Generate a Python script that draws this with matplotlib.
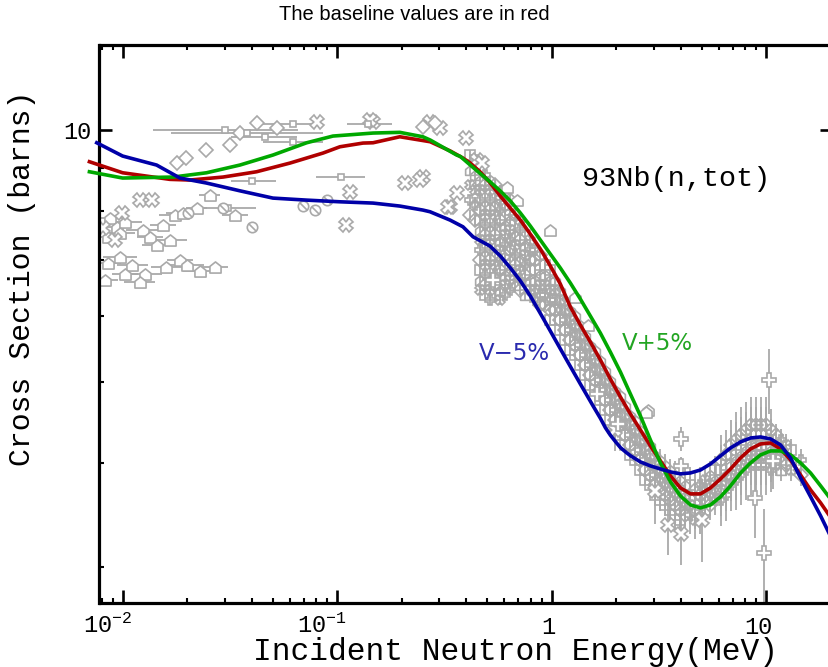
import matplotlib
matplotlib.use("Agg")
import matplotlib.pyplot as plt
from matplotlib.path import Path
from matplotlib.ticker import FixedLocator, FixedFormatter, LogLocator, NullFormatter
from matplotlib.transforms import ScaledTranslation

plt.rcParams['font.family'] = ['Liberation Mono', 'DejaVu Sans']
plt.rcParams['mathtext.fontset'] = 'custom'
plt.rcParams['mathtext.rm'] = 'Liberation Mono'
plt.rcParams['mathtext.it'] = 'Liberation Mono'
plt.rcParams['mathtext.bf'] = 'Liberation Mono'

# ---------------- evaluated curves (energy in MeV, cross section in barns) ----------------
base_E = [0.0070, 0.0100, 0.0166, 0.0206, 0.0294, 0.0421, 0.0603, 0.0859, 0.103, 0.132,
          0.147, 0.196, 0.2716, 0.3368, 0.386, 0.4175, 0.4649, 0.5176, 0.5763, 0.6417,
          0.7145, 0.7955, 0.8858, 0.9863, 1.098, 1.223, 1.361, 1.516, 1.688, 1.879,
          2.093, 2.330, 2.594, 2.888, 3.216, 3.581, 3.987, 4.439, 4.943, 5.503,
          6.128, 6.823, 7.597, 8.459, 9.418, 10.49, 11.68, 13.00, 14.47, 16.12,
          17.95, 19.63]
base_xs = [9.165, 8.890, 8.730, 8.714, 8.786, 8.915, 9.131, 9.386, 9.550, 9.648,
           9.656, 9.817, 9.683, 9.440, 9.258, 9.131, 8.908, 8.642, 8.339, 8.067,
           7.805, 7.508, 7.207, 6.877, 6.544, 6.143, 5.846, 5.577, 5.309, 5.037,
           4.794, 4.575, 4.378, 4.189, 4.020, 3.857, 3.732, 3.671, 3.671, 3.732,
           3.825, 3.932, 4.053, 4.155, 4.212, 4.224, 4.155, 4.031, 3.868, 3.711,
           3.581, 3.464]

minus_E = [0.00757, 0.0100, 0.0144, 0.0185, 0.0246, 0.0352, 0.0502, 0.0721, 0.103, 0.147,
           0.196, 0.251, 0.271, 0.336, 0.386, 0.430, 0.516, 0.576, 0.642, 0.715,
           0.796, 0.911, 1.175, 1.361, 1.558, 1.688, 1.781, 1.879, 1.983, 2.093,
           2.208, 2.330, 2.594, 2.888, 3.216, 3.581, 3.987, 4.439, 4.943, 5.503,
           6.128, 6.823, 7.597, 8.459, 9.418, 10.49, 11.68, 13.00, 14.47, 16.12,
           17.95, 19.63]
minus_xs = [9.656, 9.309, 9.081, 8.762, 8.642, 8.459, 8.291, 8.245, 8.207, 8.178,
            8.111, 8.022, 7.985, 7.804, 7.661, 7.453, 7.264, 7.070, 6.840, 6.600,
            6.330, 5.960, 5.308, 4.969, 4.680, 4.520, 4.405, 4.315, 4.240, 4.170,
            4.122, 4.078, 4.009, 3.965, 3.932, 3.900, 3.879, 3.889, 3.921, 3.987,
            4.076, 4.166, 4.236, 4.282, 4.294, 4.271, 4.200, 4.053, 3.836, 3.642,
            3.455, 3.296]

plus_E = [0.0070, 0.0100, 0.0172, 0.0246, 0.0352, 0.0502, 0.0721, 0.0956, 0.147, 0.196,
          0.251, 0.2716, 0.3607, 0.3750, 0.4175, 0.4649, 0.5176, 0.5763, 0.6417, 0.7145,
          0.7955, 0.8858, 0.9863, 1.098, 1.223, 1.361, 1.516, 1.688, 1.879, 2.093,
          2.330, 2.594, 2.888, 3.216, 3.581, 3.987, 4.439, 4.943, 5.503, 6.128,
          6.823, 7.597, 8.459, 9.418, 10.49, 11.68, 13.00, 14.47, 16.12, 17.95,
          19.63]
plus_xs = [8.915, 8.762, 8.786, 8.890, 9.081, 9.335, 9.656, 9.836, 9.918, 9.937,
           9.817, 9.729, 9.335, 9.300, 9.081, 8.870, 8.667, 8.455, 8.226, 7.959,
           7.678, 7.387, 7.107, 6.839, 6.561, 6.279, 5.991, 5.716, 5.425, 5.135,
           4.833, 4.550, 4.259, 3.998, 3.794, 3.650, 3.561, 3.532, 3.561, 3.641,
           3.753, 3.888, 3.998, 4.087, 4.132, 4.132, 4.087, 3.998, 3.888, 3.753,
           3.641]

# ---------------- measured data ----------------
# low-energy transmission points with energy bins
house_E = [0.0087, 0.0094, 0.0103, 0.0085, 0.0097, 0.0124, 0.0134, 0.0145, 0.0166, 0.0155,
           0.0175, 0.0191, 0.0085, 0.0097, 0.0111, 0.0103, 0.0127, 0.0160, 0.0185, 0.0199,
           0.0222, 0.0255, 0.0334, 0.0229, 0.0270, 0.0083, 0.0120,
           0.621, 0.688, 0.986, 1.29, 1.47, 2.80, 2.74]
house_xs = [7.85, 7.66, 7.76, 7.45, 7.53, 7.59, 7.45, 7.29, 7.39, 7.70,
            7.91, 7.96, 6.93, 7.05, 6.90, 6.72, 6.72, 6.86, 7.00, 6.90,
            8.07, 8.36, 7.91, 6.78, 6.86, 6.62, 6.58,
            8.55, 8.25, 7.59, 6.31, 5.85, 4.63, 4.60]
house_bin = [1.18, 1.15, 1.20, 1.15, 1.18, 1.20, 1.15, 1.18, 1.20, 1.15,
             1.18, 1.20, 1.15, 1.20, 1.18, 1.15, 1.20, 1.18, 1.15, 1.20,
             1.12, 1.12, 1.15, 1.20, 1.15, 1.15, 1.18,
             1.0, 1.0, 1.0, 1.0, 1.0, 1.0, 1.0]

cross_E = [0.0120, 0.0137, 0.0099, 0.0081, 0.0092, 0.0803, 0.110, 0.147, 0.207, 0.251,
           0.3025, 0.337, 0.398, 0.362, 0.272, 0.447, 0.143, 0.244, 0.329, 0.474,
           0.115, 1.98, 3.03, 3.47, 3.99, 5.05]
cross_xs = [8.25, 8.25, 7.96, 7.64, 7.39, 10.22, 7.69, 10.22, 8.64, 8.78,
            10.05, 8.09, 9.78, 8.41, 10.22, 9.20, 10.28, 8.71, 8.09, 9.13,
            8.43, 4.38, 3.70, 3.37, 3.29, 3.42]
cross_err = [0, 0, 0, 0, 0, 0, 0, 0, 0, 0,
             0, 0, 0, 0, 0, 0, 0, 0, 0, 0,
             0, 0.25, 0.32, 0.27, 0.27, 0.38]

diam_E = [0.0179, 0.0198, 0.0246, 0.0317, 0.0421, 0.0525, 0.0353, 0.251, 0.2855]
diam_xs = [9.13, 9.26, 9.46, 9.59, 10.19, 10.05, 9.92, 10.08, 10.19]

bin_E = [0.030, 0.038, 0.062, 0.140, 0.046, 0.062, 0.031, 0.104, 0.040]
bin_xs = [10.00, 9.91, 10.17, 10.17, 9.82, 9.68, 8.07, 8.79, 8.68]
bin_lo = [0.0139, 0.0168, 0.045, 0.111, 0.032, 0.045, 0.023, 0.080, 0.032]
bin_hi = [0.066, 0.086, 0.086, 0.180, 0.065, 0.086, 0.042, 0.135, 0.052]

slash_E = [0.0401, 0.0693, 0.0790, 0.0893, 0.0202, 0.0294]
slash_xs = [7.66, 8.11, 8.02, 8.25, 7.96, 8.07]

pl_E = [3.99, 3.99, 10.3, 8.9, 9.8, 10.8, 1.62, 0.533, 2.03]
pl_xs = [4.27, 3.96, 5.02, 3.63, 3.12, 4.02, 4.83, 6.62, 4.45]
pl_err = [0.14, 0.10, 0.45, 0.38, 0.40, 0.30, 0.05, 0.05, 0.05]

# high-resolution transmission: several readings per energy
band_E = [0.4175, 0.4405, 0.4649, 0.4905, 0.5176, 0.5461, 0.5763, 0.6081, 0.6417, 0.6771,
          0.7145, 0.7538, 0.7955, 0.8393, 0.8858, 0.9345, 0.9863, 1.041, 1.098, 1.159,
          1.223, 1.290, 1.361, 1.436, 1.516, 1.599, 1.688, 1.781, 1.879, 1.983,
          2.093, 2.208, 2.330, 2.458, 2.594, 2.737, 2.888, 3.047, 3.216, 3.393,
          3.581, 3.778, 3.987, 4.207, 4.439, 4.684, 4.943, 5.215, 5.503, 5.807,
          6.128, 6.466, 6.823, 7.199, 7.597, 8.016, 8.459, 8.925, 9.418, 9.937,
          10.49, 11.07, 11.68, 12.32, 13.00, 14.47]
band_xs = [
    [9.335, 8.957, 8.596, 8.247, 7.914],
    [9.207, 8.835, 8.478, 8.135, 7.805],
    [8.957, 8.714, 8.478, 8.247, 8.023, 7.805, 7.593, 7.387, 7.187, 6.992, 6.802, 6.617, 6.437],
    [8.835, 8.596, 8.363, 8.135, 7.914, 7.698, 7.489, 7.286, 7.088, 6.896, 6.709, 6.527, 6.349],
    [8.714, 8.478, 8.247, 8.023, 7.805, 7.593, 7.387, 7.187, 6.992, 6.802, 6.617, 6.437, 6.262],
    [8.596, 8.363, 8.135, 7.914, 7.698, 7.489, 7.286, 7.088, 6.896, 6.709, 6.527, 6.349],
    [8.478, 8.247, 8.023, 7.805, 7.593, 7.387, 7.187, 6.992, 6.802, 6.617, 6.437, 6.262],
    [8.363, 8.135, 7.914, 7.698, 7.489, 7.286, 7.088, 6.896, 6.709, 6.527, 6.349],
    [8.247, 8.023, 7.805, 7.593, 7.387, 7.187, 6.992, 6.802, 6.617, 6.437],
    [7.914, 7.698, 7.489, 7.286, 7.088, 6.896, 6.709, 6.527],
    [7.805, 7.593, 7.387, 7.187, 6.992, 6.802, 6.617, 6.437],
    [7.489, 7.286, 7.088, 6.896, 6.709, 6.527, 6.349],
    [7.387, 7.187, 6.992, 6.802, 6.617, 6.437],
    [7.187, 6.992, 6.802, 6.617, 6.437, 6.262],
    [7.088, 6.896, 6.709, 6.527, 6.349, 6.177],
    [6.896, 6.709, 6.527, 6.349, 6.177],
    [6.802, 6.617, 6.437, 6.262, 6.092, 5.927],
    [6.617, 6.437, 6.262, 6.092, 5.927],
    [6.437, 6.262, 6.092, 5.927, 5.766],
    [6.262, 6.092, 5.927, 5.766, 5.609],
    [6.092, 5.927, 5.766, 5.609, 5.457],
    [6.009, 5.846, 5.688, 5.533, 5.383],
    [5.846, 5.688, 5.533, 5.383, 5.237],
    [5.688, 5.533, 5.383, 5.237, 5.094],
    [5.533, 5.383, 5.237, 5.094, 4.956],
    [5.457, 5.309, 5.165, 5.024, 4.888],
    [5.309, 5.165, 5.024, 4.888, 4.755],
    [5.165, 5.024, 4.888, 4.755, 4.626],
    [5.024, 4.888, 4.755, 4.626, 4.500],
    [4.888, 4.755, 4.626, 4.500, 4.378],
    [4.821, 4.691, 4.563, 4.439, 4.318],
    [4.691, 4.563, 4.439, 4.318, 4.200],
    [4.563, 4.439, 4.318, 4.200, 4.087],
    [4.500, 4.378, 4.259, 4.143, 4.031],
    [4.378, 4.259, 4.143, 4.031, 3.921],
    [4.259, 4.143, 4.031, 3.921, 3.815],
    [4.200, 4.087, 3.976, 3.868, 3.763],
    [4.087, 3.976, 3.868, 3.763, 3.661],
    [4.031, 3.921, 3.815, 3.711, 3.610],
    [3.976, 3.868, 3.763, 3.661, 3.561],
    [3.921, 3.815, 3.711, 3.610, 3.512],
    [3.868, 3.763, 3.661, 3.561, 3.464],
    [3.815, 3.711, 3.610, 3.512, 3.417],
    [3.763, 3.661, 3.561, 3.464],
    [3.763, 3.661, 3.561, 3.464],
    [3.711, 3.610, 3.512, 3.417],
    [3.763, 3.661, 3.561, 3.464],
    [3.815, 3.711, 3.610, 3.512],
    [3.868, 3.763, 3.661, 3.561],
    [3.921, 3.815, 3.711, 3.610],
    [4.031, 3.921, 3.815, 3.711, 3.610],
    [4.087, 3.976, 3.868, 3.763, 3.661],
    [4.200, 4.087, 3.976, 3.868, 3.763],
    [4.259, 4.143, 4.031, 3.921, 3.815],
    [4.318, 4.200, 4.087, 3.976, 3.868],
    [4.378, 4.259, 4.143, 4.031, 3.921],
    [4.439, 4.318, 4.200, 4.087, 3.976],
    [4.439, 4.318, 4.200, 4.087, 3.976],
    [4.439, 4.318, 4.200, 4.087, 3.976],
    [4.439, 4.318, 4.200, 4.087, 3.976],
    [4.378, 4.259, 4.143, 4.031, 3.921],
    [4.318, 4.200, 4.087, 3.976],
    [4.259, 4.143, 4.031, 3.921],
    [4.200, 4.087, 3.976],
    [4.143, 4.031, 3.921],
    [4.031, 3.868]]
band_rel = [0.015, 0.015, 0.015, 0.015, 0.015, 0.015, 0.015, 0.015, 0.015, 0.015,
            0.015, 0.015, 0.015, 0.015, 0.015, 0.015, 0.015, 0.015, 0.015, 0.015,
            0.015, 0.015, 0.015, 0.015, 0.015, 0.015, 0.015, 0.015, 0.015, 0.015,
            0.015, 0.015, 0.015, 0.015, 0.015, 0.015, 0.015, 0.015, 0.030, 0.030,
            0.030, 0.040, 0.050, 0.050, 0.050, 0.050, 0.050, 0.040, 0.040, 0.040,
            0.070, 0.070, 0.070, 0.080, 0.080, 0.080, 0.080, 0.080, 0.080, 0.080,
            0.060, 0.030, 0.030, 0.030, 0.030, 0.030]

# ---------------- styles ----------------
GRAY = '#a9a9a9'
RED = '#b00000'
BLUE = '#0000a8'
GREEN = '#00a800'

house = Path([(-1, -1), (1, -1), (1, 0.2), (0, 1), (-1, 0.2), (-1, -1)],
             [Path.MOVETO, Path.LINETO, Path.LINETO, Path.LINETO, Path.LINETO, Path.CLOSEPOLY])
slash = Path.make_compound_path(Path.unit_circle(), Path([(-0.7, 0.7), (0.7, -0.7)]))

fig = plt.figure(figsize=(8.29, 6.67), dpi=100)
ax = fig.add_axes([99.5 / 829, 64 / 667, 733.5 / 829, 558 / 667])
ax.set_xscale('log')
ax.set_yscale('log')
ax.set_xlim(0.0078, 20.5)
ax.set_ylim(2.718, 12.64)


def points(E, xs, marker, ms, xerr=None, yerr=None, face='white'):
    ax.errorbar(E, xs, xerr=xerr, yerr=yerr, fmt='none', ecolor=GRAY,
                elinewidth=1.3, capsize=0, zorder=2)
    ax.plot(E, xs, ls='none', marker=marker, ms=ms, mfc=face, mec=GRAY,
            mew=1.2, zorder=2.5)


# dense band of high-resolution data
band_markers = ['s', house, 'X', 'P', 'D']
k = 0
for e, col, rel in zip(band_E, band_xs, band_rel):
    for s in col:
        points([e], [s], band_markers[k % len(band_markers)], 7,
               yerr=[[s * rel], [s * rel]], face='none')
        k += 1

points(house_E, house_xs, house, 8,
       xerr=[[e - e / f for e, f in zip(house_E, house_bin)],
             [e * f - e for e, f in zip(house_E, house_bin)]])
points(cross_E, cross_xs, 'X', 9.5, yerr=cross_err)
points(diam_E, diam_xs, 'D', 7.5)
points(bin_E, bin_xs, 's', 5,
       xerr=[[e - lo for e, lo in zip(bin_E, bin_lo)], [hi - e for e, hi in zip(bin_E, bin_hi)]])
points(slash_E, slash_xs, slash, 7.5)
points(pl_E, pl_xs, 'P', 9.5, yerr=pl_err)

# evaluated curves
ax.plot(base_E, base_xs, color=RED, lw=2.6, zorder=4, clip_on=False)
ax.plot(plus_E, plus_xs, color=GREEN, lw=2.6, zorder=4, clip_on=False)
ax.plot(minus_E, minus_xs, color=BLUE, lw=2.6, zorder=4, clip_on=False)

# axes frame and ticks
for sp in ax.spines.values():
    sp.set_linewidth(2.3)
ax.xaxis.set_major_locator(FixedLocator([0.01, 0.1, 1, 10]))
ax.xaxis.set_major_formatter(FixedFormatter([r'$\mathregular{10^{-2}}$', r'$\mathregular{10^{-1}}$', '1', '10']))
ax.xaxis.set_minor_locator(LogLocator(base=10, subs=range(2, 10), numticks=20))
ax.xaxis.set_minor_formatter(NullFormatter())
ax.yaxis.set_major_locator(FixedLocator([10]))
ax.yaxis.set_major_formatter(FixedFormatter(['10']))
ax.yaxis.set_minor_locator(LogLocator(base=10, subs=range(2, 10), numticks=20))
ax.yaxis.set_minor_formatter(NullFormatter())
ax.tick_params(which='major', direction='in', top=True, right=True, length=9.5, width=1.9,
               labelsize=17, pad=6)
ax.tick_params(axis='x', which='major', pad=9)
ax.tick_params(which='minor', direction='in', top=True, right=True, length=3.8, width=1.5)

shifts = [(-15, 2), (-15, 2), (-3, 0), (-8, 0)]
for lab, (dx, dy) in zip(ax.get_xticklabels(), shifts):
    lab.set_transform(lab.get_transform() + ScaledTranslation(dx / 100, dy / 100, fig.dpi_scale_trans))

# labels
fig.text(0.5, 1 - 15 / 667, 'The baseline values are in red', ha='center', va='center',
         fontsize=14.5, family='Liberation Sans')
fig.text(515.5 / 829, 1 - 652 / 667, 'Incident Neutron Energy(MeV)', ha='center', va='center',
         fontsize=22.5)
fig.text(22 / 829, 1 - 278 / 667, 'Cross Section (barns)', ha='center', va='center',
         rotation=90, fontsize=21.5)
ax.text(0.6578, 0.760, '93Nb(n,tot)', transform=ax.transAxes, ha='left', va='center',
        fontsize=20.5)
ax.text(0.5651, 0.448, 'V\u22125%', transform=ax.transAxes, ha='center', va='center',
        fontsize=16.5, family='DejaVu Sans', color='#2a2aae')
ax.text(0.760, 0.4642, 'V+5%', transform=ax.transAxes, ha='center', va='center',
        fontsize=16.5, family='DejaVu Sans', color='#22a522')

fig.savefig('out.png', dpi=100)
